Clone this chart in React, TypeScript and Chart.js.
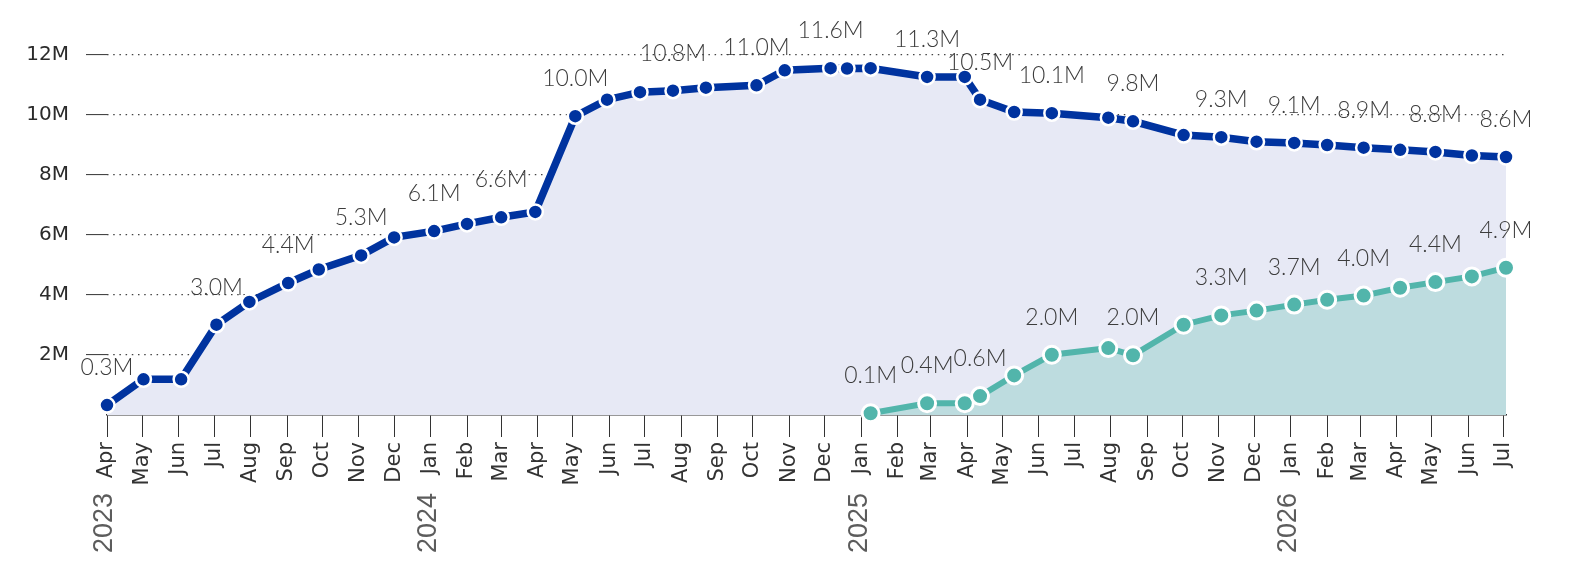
import React, { useEffect, useRef } from 'react';
import { Chart, registerables } from 'chart.js';

Chart.register(...registerables);

// x axis: month ticks (generated between these two dates) and year captions
const monthNames = ['Jan', 'Feb', 'Mar', 'Apr', 'May', 'Jun', 'Jul', 'Aug', 'Sep', 'Oct', 'Nov', 'Dec'];
const firstMonth = '2023-04-01';
const lastMonth = '2026-07-01';
const yearLabels = ['2023', '2024', '2025', '2026'];
const yearLabelDates = ['2023-04-01', '2024-01-01', '2025-01-01', '2026-01-01'];

// y axis ticks, in millions
const yTicks = [2, 4, 6, 8, 10, 12];

// dark blue series (millions)
const blueDates = [
    '2023-04-01', '2023-05-02', '2023-06-03', '2023-07-03', '2023-07-31', '2023-09-02', '2023-09-28',
    '2023-11-03', '2023-12-01', '2024-01-04', '2024-02-01', '2024-03-01', '2024-03-30', '2024-05-03',
    '2024-05-30', '2024-06-27', '2024-07-25', '2024-08-22', '2024-10-04', '2024-10-28', '2024-12-06',
    '2024-12-20', '2025-01-09', '2025-02-26', '2025-03-30', '2025-04-12', '2025-05-11', '2025-06-12',
    '2025-07-30', '2025-08-20', '2025-10-02', '2025-11-03', '2025-12-03', '2026-01-04', '2026-02-01',
    '2026-03-04', '2026-04-04', '2026-05-04', '2026-06-04', '2026-07-03',
];
const blueValues = [
    0.33, 1.19, 1.19, 3.01, 3.77, 4.40, 4.85, 5.32, 5.92, 6.13, 6.37, 6.59, 6.77,
    9.96, 10.51, 10.76, 10.81, 10.91, 10.99, 11.49, 11.56, 11.55, 11.56, 11.27, 11.27,
    10.51, 10.10, 10.06, 9.91, 9.79, 9.33, 9.26, 9.11, 9.07, 9.00, 8.91, 8.84, 8.77, 8.65, 8.60,
];
const blueLabelled = [0, 3, 5, 7, 9, 11, 13, 16, 18, 20, 23, 25, 27, 29, 31, 33, 35, 37, 39];

// teal series (millions)
const tealDates = [
    '2025-01-09', '2025-02-26', '2025-03-30', '2025-04-12', '2025-05-11', '2025-06-12',
    '2025-07-30', '2025-08-20', '2025-10-02', '2025-11-03', '2025-12-03', '2026-01-04',
    '2026-02-01', '2026-03-04', '2026-04-04', '2026-05-04', '2026-06-04', '2026-07-03',
];
const tealValues = [
    0.06, 0.39, 0.39, 0.63, 1.32, 2.01, 2.23, 1.99, 3.01, 3.32, 3.48, 3.68, 3.84, 3.98, 4.24, 4.43, 4.62, 4.91,
];
const tealLabelled = [0, 1, 3, 5, 7, 9, 11, 13, 15, 17];

const BLUE = '#00339f';
const BLUE_FILL = '#e7e9f5';
const TEAL = '#52b5ab';
const TEAL_FILL = '#bddcdf';
const FONT = '"DejaVu Sans", sans-serif';

const toDay = (s: string) => Date.UTC(+s.slice(0, 4), +s.slice(5, 7) - 1, +s.slice(8, 10)) / 86400000;

const monthTicks = () => {
    const ticks: { value: number }[] = [];
    const end = toDay(lastMonth);
    let y = +firstMonth.slice(0, 4);
    let m = +firstMonth.slice(5, 7) - 1;
    while (Date.UTC(y, m, 1) / 86400000 <= end) {
        ticks.push({ value: Date.UTC(y, m, 1) / 86400000 });
        m++;
        if (m > 11) { m = 0; y++; }
    }
    return ticks;
};

// label sets in the same order as the datasets
const labelSets = [tealLabelled, blueLabelled];

const textPlugin = {
    id: 'textPlugin',
    afterDatasetsDraw(chart: Chart) {
        const ctx = chart.ctx;
        ctx.save();
        ctx.font = '300 23px Lato, sans-serif';
        ctx.fillStyle = '#3c3c3c';
        ctx.textAlign = 'center';
        ctx.textBaseline = 'alphabetic';
        chart.data.datasets.forEach((ds, di) => {
            const meta = chart.getDatasetMeta(di);
            labelSets[di].forEach((i) => {
                const el = meta.data[i];
                const v = (ds.data[i] as { y: number }).y;
                ctx.fillText(v.toFixed(1) + 'M', el.x, el.y - 30);
            });
        });

        // year captions under the month labels
        const xs = chart.scales.x;
        ctx.font = '27px "Liberation Sans", sans-serif';
        ctx.fillStyle = '#5c5c5c';
        ctx.textAlign = 'right';
        ctx.textBaseline = 'middle';
        yearLabels.forEach((yr, i) => {
            ctx.save();
            ctx.translate(xs.getPixelForValue(toDay(yearLabelDates[i])) - 2, 493);
            ctx.rotate(-Math.PI / 2);
            ctx.fillText(yr, 0, 0);
            ctx.restore();
        });
        ctx.restore();
    },
};

const LineChart: React.FC = () => {
    const canvasRef = useRef<HTMLCanvasElement | null>(null);
    const chartRef = useRef<Chart | null>(null);

    useEffect(() => {
        if (!canvasRef.current) return;
        if (chartRef.current) chartRef.current.destroy();

        chartRef.current = new Chart(canvasRef.current, {
            type: 'line',
            data: {
                datasets: [
                    {
                        data: tealDates.map((d, i) => ({ x: toDay(d), y: tealValues[i] })),
                        borderColor: TEAL,
                        borderWidth: 6,
                        backgroundColor: TEAL_FILL,
                        fill: 'origin',
                        pointRadius: 8.5,
                        pointBorderWidth: 3,
                        pointBackgroundColor: TEAL,
                        pointBorderColor: '#ffffff',
                        tension: 0,
                        clip: false,
                    },
                    {
                        data: blueDates.map((d, i) => ({ x: toDay(d), y: blueValues[i] })),
                        borderColor: BLUE,
                        borderWidth: 7.5,
                        backgroundColor: BLUE_FILL,
                        fill: 'origin',
                        pointRadius: 7.5,
                        pointBorderWidth: 2.5,
                        pointBackgroundColor: BLUE,
                        pointBorderColor: '#ffffff',
                        tension: 0,
                        clip: false,
                    },
                ],
            },
            options: {
                animation: false,
                responsive: true,
                maintainAspectRatio: false,
                layout: { padding: { top: 55, right: 68, left: 0, bottom: 0 }, autoPadding: false },
                plugins: {
                    legend: { display: false },
                    tooltip: { enabled: false },
                },
                scales: {
                    x: {
                        type: 'linear',
                        min: toDay(blueDates[0]),
                        max: toDay(blueDates[blueDates.length - 1]),
                        afterBuildTicks: (scale) => { scale.ticks = monthTicks(); },
                        afterFit: (scale) => { scale.height = 147; },
                        grid: {
                            drawOnChartArea: false,
                            drawTicks: true,
                            tickLength: 22,
                            tickColor: '#333333',
                            tickWidth: 1,
                        },
                        border: { display: true, color: '#333333', width: 1.5 },
                        ticks: {
                            autoSkip: false,
                            minRotation: 90,
                            maxRotation: 90,
                            padding: 5,
                            color: '#333333',
                            font: { family: FONT, size: 21 },
                            callback: (v) => monthNames[new Date(Number(v) * 86400000).getUTCMonth()],
                        },
                    },
                    y: {
                        min: 0,
                        max: 12,
                        afterBuildTicks: (scale) => { scale.ticks = yTicks.map((v) => ({ value: v })); },
                        afterFit: (scale) => { scale.width = 107; },
                        grid: {
                            color: '#444444',
                            lineWidth: 1.2,
                            tickLength: 21,
                            tickColor: '#333333',
                            tickWidth: 1,
                        },
                        border: { display: false, dash: [1.5, 4.7] },
                        ticks: {
                            padding: 17,
                            color: '#2b2b2b',
                            font: { family: FONT, size: 20 },
                            callback: (v) => `${v}M`,
                        },
                    },
                },
            },
            plugins: [textPlugin],
        });

        return () => {
            if (chartRef.current) {
                chartRef.current.destroy();
                chartRef.current = null;
            }
        };
    }, []);

    return (
        <div style={{ position: 'fixed', left: 0, top: 0, width: 1574, height: 562, background: '#ffffff' }}>
            <canvas ref={canvasRef} />
        </div>
    );
};

export default function App() {
    return <LineChart />;
}
